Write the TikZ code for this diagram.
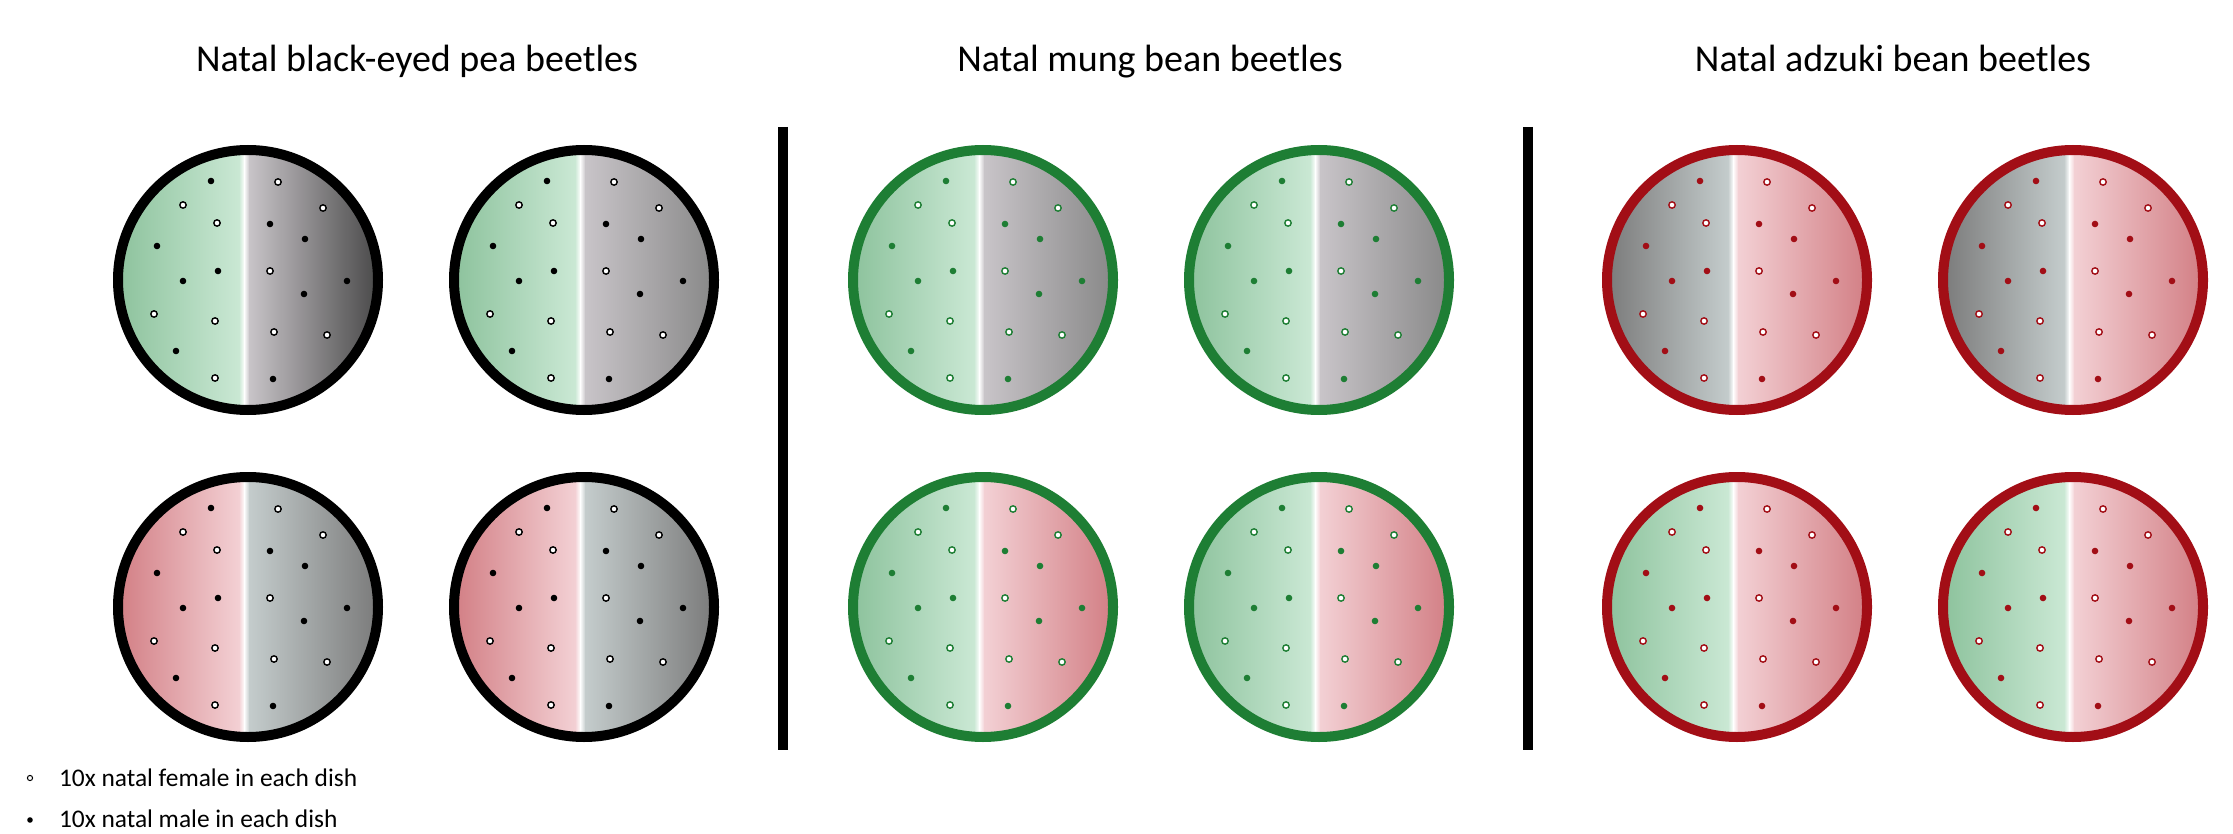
\documentclass[tikz,border=0pt]{standalone}
\usepackage{fontspec}
\setmainfont{Carlito}
\usepackage{tikz}
\usetikzlibrary{positioning}

\definecolor{gOut}{RGB}{140,194,156}
\definecolor{gIn}{RGB}{202,232,212}
\definecolor{rOut}{RGB}{210,126,132}
\definecolor{rIn}{RGB}{243,208,212}
\definecolor{kIn}{RGB}{200,196,200}
\definecolor{kDark}{RGB}{72,72,72}
\definecolor{kMid}{RGB}{136,136,136}
\definecolor{kInB}{RGB}{196,204,204}
\definecolor{kOutB}{RGB}{122,122,122}
\definecolor{mungGreen}{RGB}{30,126,52}
\definecolor{adzRed}{RGB}{162,14,22}

% #1 name, #2 centre, #3/#4 left half (edge/middle), #5/#6 right half (middle/edge), #7 rim and beetles
\newcommand{\petri}[7]{%
  \begin{scope}[shift={(#2)}]
    \begin{scope}
      \clip (0,0) circle (130);
      \shade[left color=#3, right color=#4] (-131,-131) rectangle (-8.5,131);
      \shade[left color=#4, right color=white] (-9,-131) rectangle (-3.5,131);
      \shade[left color=white, right color=#5] (-4,-131) rectangle (1.5,131);
      \shade[left color=#5, right color=#6] (1,-131) rectangle (131,131);
    \end{scope}
    \node[dish, draw=#7] (#1) at (0,0) {};
    \foreach \dx/\dy in {-37/-99, -91/-34, -30/-9, -65/1, -72/71,
                         22/-56, 57/-41, 99/1, 56/14, 25/99}
      \fill[#7] (\dx,\dy) circle (3.3);
    \foreach \dx/\dy in {-65/-75, -31/-57, -94/34, -33/41, -33/98,
                         30/-98, 75/-72, 22/-9, 26/52, 79/55}
      \draw[#7, fill=white, line width=0.7pt] (\dx,\dy) circle (3.2);
  \end{scope}}

\begin{document}
\begin{tikzpicture}[
  x=0.5pt, y=-0.5pt,
  dish/.style={circle, line width=5pt, minimum size=130pt, inner sep=0pt},
  title/.style={font=\fontsize{19}{23}\selectfont, anchor=base},
  legend/.style={font=\fontsize{12.7}{15}\selectfont, anchor=base west},
  divider/.style={line width=5pt},
  fem/.style={circle, draw, fill=white, line width=0.5pt, inner sep=0pt, minimum size=2.6pt},
  male/.style={circle, fill=black, inner sep=0pt, minimum size=2.8pt}
]
\useasboundingbox (0,0) rectangle (2233,834);

\node[title] (tbep) at (417,72) {Natal black-eyed pea beetles};
\node[title] (tmung) at (1150,72) {Natal mung bean beetles};
\node[title] (tadz) at (1893,72) {Natal adzuki bean beetles};

% black-eyed pea
\petri{bep1}{248,280}{gOut}{gIn}{kIn}{kDark}{black}
\petri{bep2}{584,280}{gOut}{gIn}{kIn}{kMid}{black}
\petri{bep3}{248,607}{rOut}{rIn}{kInB}{kOutB}{black}
\petri{bep4}{584,607}{rOut}{rIn}{kInB}{kOutB}{black}

% mung bean
\petri{mung1}{983,280}{gOut}{gIn}{kIn}{kMid}{mungGreen}
\petri{mung2}{1319,280}{gOut}{gIn}{kIn}{kMid}{mungGreen}
\petri{mung3}{983,607}{gOut}{gIn}{rIn}{rOut}{mungGreen}
\petri{mung4}{1319,607}{gOut}{gIn}{rIn}{rOut}{mungGreen}

% adzuki bean
\petri{adz1}{1737,280}{kOutB}{kInB}{rIn}{rOut}{adzRed}
\petri{adz2}{2073,280}{kOutB}{kInB}{rIn}{rOut}{adzRed}
\petri{adz3}{1737,607}{gOut}{gIn}{rIn}{rOut}{adzRed}
\petri{adz4}{2073,607}{gOut}{gIn}{rIn}{rOut}{adzRed}

\draw[divider] (783,127) -- (783,750);
\draw[divider] (1528,127) -- (1528,750);

% legend
\node[fem] (mfem) at (30,778) {};
\node[male] (mmale) at (30,820) {};
\node[legend] (lfem) at (52,786) {10x natal female in each dish};
\node[legend] (lmale) at (52,827) {10x natal male in each dish};
\end{tikzpicture}
\end{document}
